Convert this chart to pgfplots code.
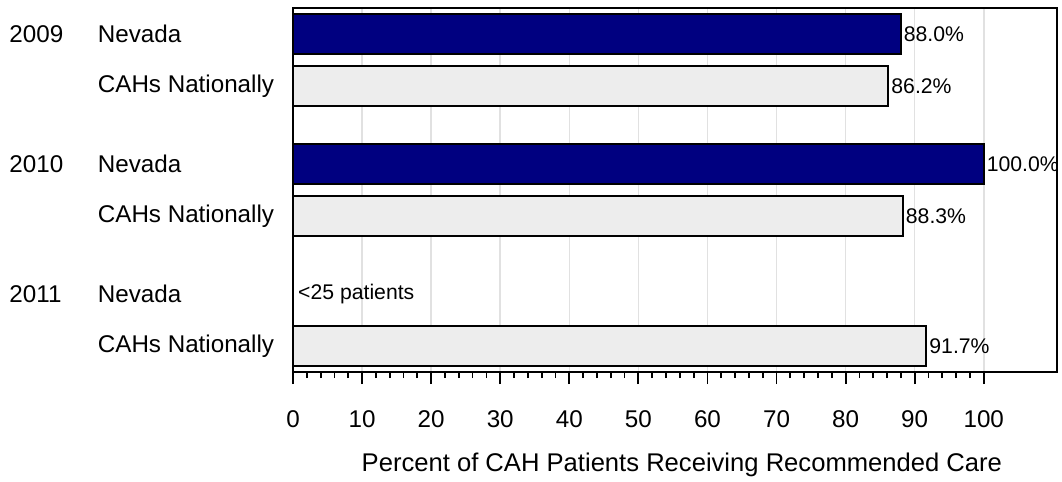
\documentclass[border=0pt]{standalone}
\usepackage{pgfplots}
\pgfplotsset{compat=1.18}
\usepackage{fontspec}
\setmainfont{Liberation Sans}
\definecolor{navybar}{RGB}{0,0,128}
\definecolor{greybar}{RGB}{237,237,237}
\definecolor{gridgrey}{RGB}{225,225,225}
\begin{document}
\begin{tikzpicture}
\begin{axis}[
  scale only axis,
  width=382pt, height=182pt,
  xmin=0, xmax=110.6,
  ymin=-0.5, ymax=6.5,
  y dir=reverse,
  axis line style={line width=1.2pt},
  ytick=\empty,
  xtick={0,10,...,100},
  minor x tick num=4,
  tick align=outside,
  xtick pos=bottom,
  major tick length=6pt,
  minor tick length=3pt,
  every tick/.style={black, line width=0.9pt},
  xmajorgrids,
  major grid style={gridgrey, line width=0.8pt},
  xticklabel style={font=\fontsize{12.1}{14}\selectfont, yshift=-10pt},
  /pgf/number format/assume math mode=true,
  xlabel={Percent of CAH Patients Receiving Recommended Care},
  xlabel style={font=\fontsize{12.8}{15}\selectfont, at={(axis description cs:0.509,0)}, anchor=center, yshift=-46.5pt},
  clip=false,
  xbar, bar shift=0pt, bar width=0.77,
  nodes near coords={\pgfmathprintnumber[fixed,fixed zerofill,precision=1]{\pgfplotspointmeta}\%},
  nodes near coords style={font=\fontsize{10.6}{12}\selectfont, /pgf/number format/assume math mode=true, inner sep=1pt, anchor=west},
]
\addplot[draw=black, line width=1pt, fill=navybar] coordinates {(88.0,0) (100.0,2.5)};
\addplot[draw=black, line width=1pt, fill=greybar] coordinates {(86.2,1) (88.3,3.5) (91.7,6)};
\node[anchor=west, font=\fontsize{10.6}{12}\selectfont, inner sep=0pt] at (axis cs:0.7,5) {<25 patients};
\node[anchor=west, font=\fontsize{12.1}{14}\selectfont, inner sep=0pt] at (axis cs:-41.1,0) {2009};
\node[anchor=west, font=\fontsize{12.1}{14}\selectfont, inner sep=0pt] at (axis cs:-41.1,2.5) {2010};
\node[anchor=west, font=\fontsize{12.1}{14}\selectfont, inner sep=0pt] at (axis cs:-41.1,5) {2011};
\node[anchor=west, font=\fontsize{12.1}{14}\selectfont, inner sep=0pt] at (axis cs:-28.3,0) {Nevada};
\node[anchor=west, font=\fontsize{12.1}{14}\selectfont, inner sep=0pt] at (axis cs:-28.3,2.5) {Nevada};
\node[anchor=west, font=\fontsize{12.1}{14}\selectfont, inner sep=0pt] at (axis cs:-28.3,5) {Nevada};
\node[anchor=west, font=\fontsize{12.1}{14}\selectfont, inner sep=0pt] at (axis cs:-28.3,1) {CAHs Nationally};
\node[anchor=west, font=\fontsize{12.1}{14}\selectfont, inner sep=0pt] at (axis cs:-28.3,3.5) {CAHs Nationally};
\node[anchor=west, font=\fontsize{12.1}{14}\selectfont, inner sep=0pt] at (axis cs:-28.3,6) {CAHs Nationally};
\end{axis}
\pgfresetboundingbox
\path[use as bounding box] (-146.5pt,-55pt) rectangle (384.5pt,186pt);
\end{tikzpicture}
\end{document}
